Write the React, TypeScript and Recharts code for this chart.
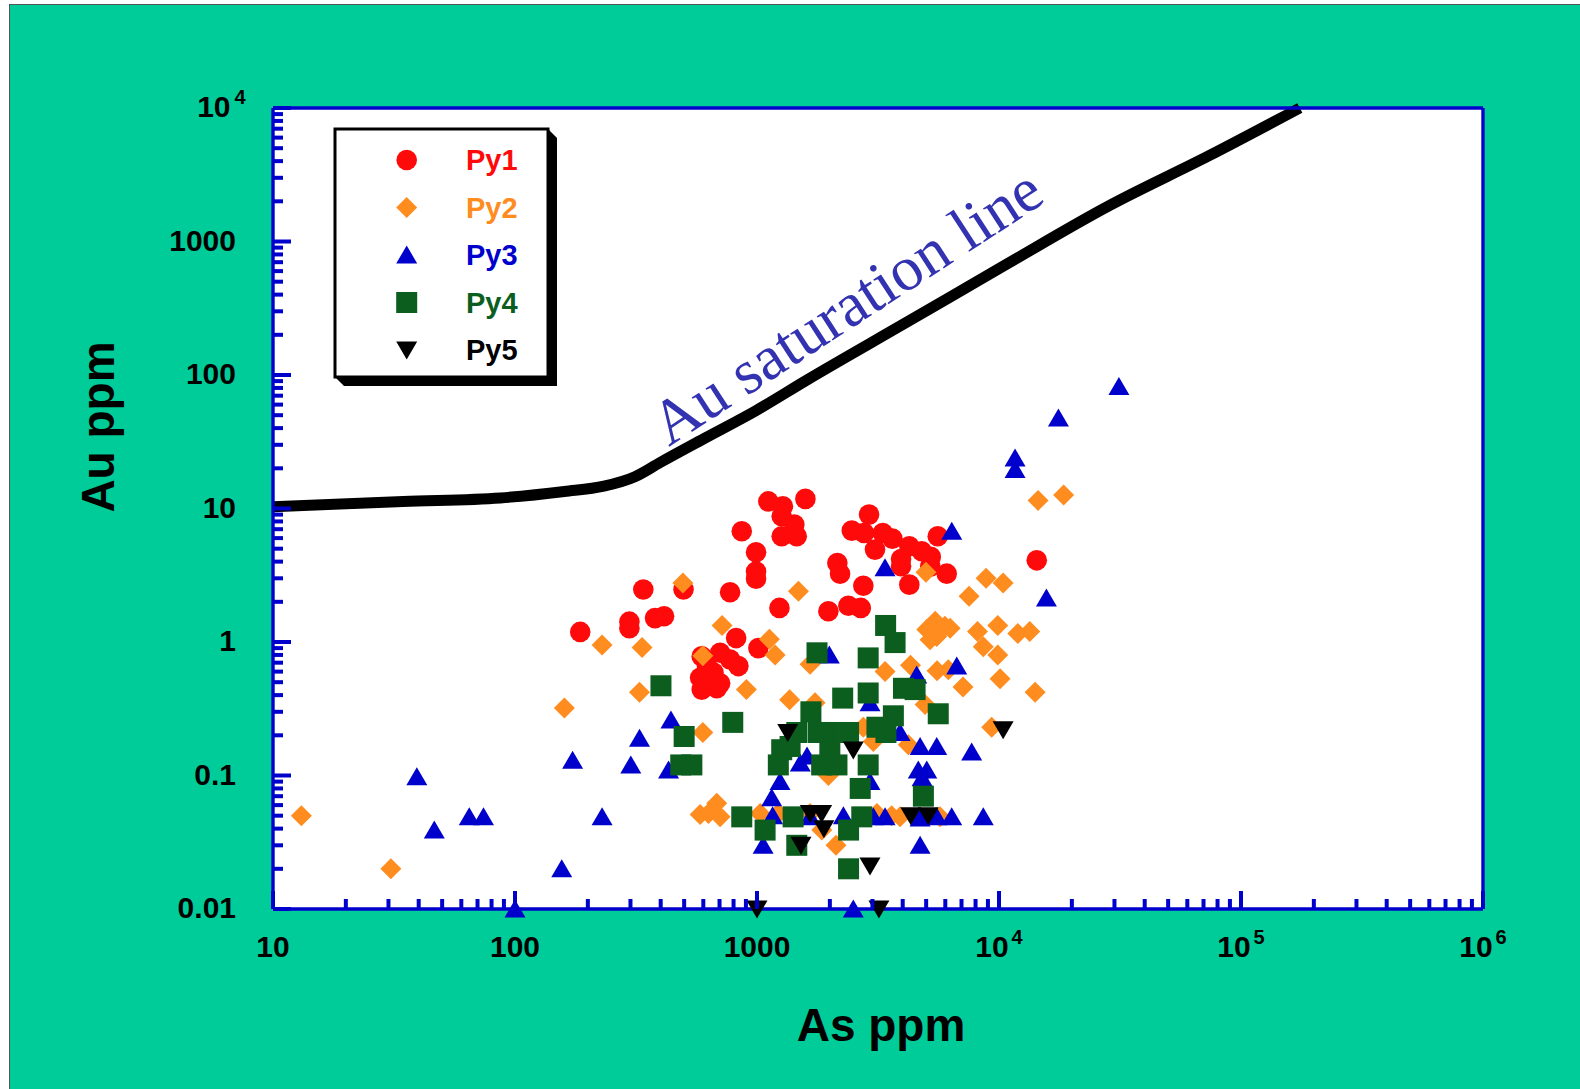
import { ComposedChart, Scatter, Line, XAxis, YAxis } from 'recharts'

// [As ppm, Au ppm]
const py1: [number, number][] = [
  [1114, 11.3], [1279, 10.4], [1585, 11.8], [1265, 8.74], [1426, 7.57], [1265, 6.19],
  [1459, 6.19], [865, 6.75], [991, 4.7], [991, 3.37], [991, 2.98], [774, 2.36],
  [1238, 1.8], [2904, 9.0], [2464, 6.83], [2770, 6.56], [3310, 6.56], [3624, 5.95],
  [3073, 4.92], [4260, 5.21], [4795, 4.78], [5224, 4.34], [3938, 4.19], [3938, 3.69],
  [5583, 6.19], [6081, 3.25], [4260, 2.69], [2148, 3.91], [2204, 3.25], [2750, 2.64],
  [1972, 1.7], [2386, 1.87], [2685, 1.8], [5200, 3.67], [14320, 4.09], [339, 2.47],
  [497, 2.47], [297, 1.42], [297, 1.27], [379, 1.51], [413, 1.56], [186, 1.19],
  [820, 1.07], [1013, 0.9], [591, 0.78], [704, 0.83], [774, 0.74], [838, 0.66],
  [582, 0.54], [661, 0.59], [704, 0.49], [591, 0.44], [682, 0.45], [621, 0.66],
]

const py2: [number, number][] = [
  [13.1, 0.05], [30.7, 0.02], [160, 0.32], [229, 0.95], [335, 0.91], [327, 0.42],
  [494, 2.77], [597, 0.79], [597, 0.21], [582, 0.051], [630, 0.052], [682, 0.062],
  [704, 0.049], [717, 1.33], [1125, 1.05], [1188, 0.8], [904, 0.44], [1364, 0.37],
  [1483, 2.4], [1657, 0.68], [1738, 0.35], [2750, 0.23], [3025, 0.18], [1972, 0.1],
  [3382, 0.6], [4309, 0.67], [5546, 0.61], [6175, 0.62], [7100, 0.46], [10100, 0.53],
  [14100, 0.42], [4950, 0.34], [4220, 0.17], [9330, 0.23], [4990, 3.33], [8840, 3.0],
  [10400, 2.77], [7520, 2.2], [5450, 1.43], [5980, 1.31], [5030, 1.24], [5530, 1.1],
  [5190, 1.04], [8150, 1.2], [9880, 1.33], [11960, 1.16], [13400, 1.2], [8610, 0.92],
  [9880, 0.8], [14500, 11.5], [18500, 12.6], [6280, 1.27], [1030, 0.052], [1225, 0.052],
  [1657, 0.052], [1853, 0.039], [2120, 0.03], [3130, 0.052], [3600, 0.05], [3900, 0.049],
  [5700, 0.049],
]

const py3: [number, number][] = [
  [39.3, 0.098], [46.4, 0.039], [64.7, 0.049], [74.1, 0.049], [156, 0.02], [173, 0.13],
  [229, 0.049], [301, 0.12], [327, 0.19], [441, 0.26], [431, 0.11], [100, 0.01],
  [1990, 0.8], [4570, 0.565], [6690, 0.66], [2930, 0.35], [3900, 0.21], [4720, 0.165],
  [5530, 0.165], [7710, 0.15], [1610, 0.14], [1510, 0.124], [4640, 0.11], [5030, 0.11],
  [4810, 0.096], [1245, 0.09], [1150, 0.068], [2930, 0.09], [1160, 0.05], [1657, 0.049],
  [2275, 0.05], [3025, 0.049], [3382, 0.049], [4720, 0.048], [5530, 0.049], [6377, 0.049],
  [8610, 0.049], [1060, 0.03], [4720, 0.03], [11650, 19.6], [6380, 6.75], [3380, 3.6],
  [15700, 2.14], [31300, 82], [17600, 47.7], [11650, 23.9], [2500, 0.01],
]

const py4: [number, number][] = [
  [3400, 1.33], [3720, 0.99], [1770, 0.83], [2880, 0.76], [4030, 0.45], [4500, 0.44],
  [2880, 0.415], [2260, 0.38], [794, 0.25], [1670, 0.3], [5610, 0.29], [3660, 0.28],
  [3130, 0.23], [3410, 0.21], [1460, 0.21], [1790, 0.21], [1970, 0.21], [2390, 0.21],
  [1265, 0.156], [1370, 0.165], [2000, 0.148], [1225, 0.12], [1850, 0.12], [2140, 0.12],
  [2880, 0.12], [2670, 0.08], [4870, 0.07], [865, 0.049], [1080, 0.039], [1410, 0.049],
  [1460, 0.03], [2710, 0.049], [2390, 0.039], [2390, 0.02], [401, 0.47], [500, 0.196],
  [484, 0.12], [538, 0.12],
]

const py5: [number, number][] = [
  [1340, 0.21], [2500, 0.155], [10400, 0.22], [1660, 0.052], [1850, 0.052], [1890, 0.04],
  [1520, 0.03], [4320, 0.05], [5100, 0.05], [2930, 0.021], [1000, 0.01], [3190, 0.01],
]

// Au saturation line
const satLine: [number, number][] = [
  [10, 10.3], [34.5, 11.3], [87, 12.0], [160, 13.4], [233, 14.7], [313, 17.3],
  [398, 22.1], [612, 33.8], [989, 54], [1596, 91], [4168, 249], [10870, 684],
  [28300, 1840], [73800, 4390], [175000, 10000],
]

const seriesNames = ['Py1', 'Py2', 'Py3', 'Py4', 'Py5']
const seriesColors = ['#ff0a0a', '#ff8c1f', '#0000cc', '#0b5e1e', '#000000']
const seriesShapes = ['circle', 'diamond', 'up', 'square', 'down']
const seriesData = [py1, py2, py3, py4, py5]

const xMajors = [10, 100, 1000, 1e4, 1e5, 1e6]
const yMajors = [0.01, 0.1, 1, 10, 100, 1000, 1e4]
const xTickLabels = ['10', '100', '1000', '10^4', '10^5', '10^6']
const yTickLabels = ['0.01', '0.1', '1', '10', '100', '1000', '10^4']
const minorSteps = [2, 3, 4, 5, 6, 7, 8, 9]

const W = 1580
const H = 1089
// axes take 1px each, so the plot box is 273..1483 x 108..909
const M = { top: 107, right: 96, bottom: 179, left: 272 }
const AXIS = '#0000cc'
const FONT = 'Arial, "Liberation Sans", Helvetica, sans-serif'

const withMinors = (majors: number[]) =>
  majors.flatMap((m, i) =>
    i === majors.length - 1 ? [m] : [m, ...minorSteps.map((s) => Number((m * s).toPrecision(6)))]
  )
const xTicks = withMinors(xMajors)
const yTicks = withMinors(yMajors)

const isMajor = (v: number) => {
  const e = Math.log10(v)
  return Math.abs(e - Math.round(e)) < 1e-6
}
const tickLen = (v: number) => (isMajor(v) ? 18 : 10)
const TICK_W = 4

function TickText({ x, y, text, align }: { x: number; y: number; text: string; align: 'middle' | 'end' }) {
  const [base, exp] = text.split('^')
  const common = { fontFamily: FONT, fontWeight: 700, fill: '#000' }
  if (!exp) {
    return (
      <text x={x} y={y} textAnchor={align} fontSize={30} {...common}>
        {base}
      </text>
    )
  }
  if (align === 'middle') {
    const bw = base.length * 0.556 * 30
    const total = bw + 3 + exp.length * 0.556 * 20
    const x0 = x - total / 2
    return (
      <g>
        <text x={x0} y={y} textAnchor="start" fontSize={30} {...common}>{base}</text>
        <text x={x0 + bw + 3} y={y - 13} textAnchor="start" fontSize={20} {...common}>{exp}</text>
      </g>
    )
  }
  return (
    <g>
      <text x={x - 5.5} y={y} textAnchor="end" fontSize={30} {...common}>{base}</text>
      <text x={x - 1.5} y={y - 13} textAnchor="start" fontSize={20} {...common}>{exp}</text>
    </g>
  )
}

function BottomTick(props: any) {
  const { x, y, payload } = props
  const v = payload.value
  const label = isMajor(v) ? xTickLabels[Math.round(Math.log10(v)) - 1] : null
  return (
    <g>
      <rect x={x - TICK_W / 2} y={y - tickLen(v)} width={TICK_W} height={tickLen(v)} fill={AXIS} />
      {label && <TickText x={x} y={y + 48} text={label} align="middle" />}
    </g>
  )
}

function TopTick(props: any) {
  const { x, y, payload } = props
  return <rect x={x - TICK_W / 2} y={y} width={TICK_W} height={tickLen(payload.value)} fill={AXIS} />
}

function LeftTick(props: any) {
  const { x, y, payload } = props
  const v = payload.value
  const label = isMajor(v) ? yTickLabels[Math.round(Math.log10(v)) + 2] : null
  return (
    <g>
      <rect x={x} y={y - TICK_W / 2} width={tickLen(v)} height={TICK_W} fill={AXIS} />
      {label && <TickText x={x - 37} y={y + 9} text={label} align="end" />}
    </g>
  )
}

function RightTick(props: any) {
  const { x, y, payload } = props
  const len = tickLen(payload.value)
  return <rect x={x - len} y={y - TICK_W / 2} width={len} height={TICK_W} fill={AXIS} />
}

function Marker({ kind, cx, cy, color }: { kind: string; cx: number; cy: number; color: string }) {
  switch (kind) {
    case 'circle':
      return <circle cx={cx} cy={cy} r={10.3} fill={color} />
    case 'diamond':
      return <polygon points={`${cx},${cy - 10.5} ${cx + 10.5},${cy} ${cx},${cy + 10.5} ${cx - 10.5},${cy}`} fill={color} />
    case 'up':
      return <polygon points={`${cx},${cy - 9.5} ${cx + 10.5},${cy + 8.5} ${cx - 10.5},${cy + 8.5}`} fill={color} />
    case 'square':
      return <rect x={cx - 10.5} y={cy - 10.5} width={21} height={21} fill={color} />
    default:
      return <polygon points={`${cx - 10.5},${cy - 8.5} ${cx + 10.5},${cy - 8.5} ${cx},${cy + 9.5}`} fill={color} />
  }
}

function Legend() {
  const L = 335
  const T = 129
  const R = 548
  const B = 377
  const d = 9
  return (
    <g>
      <polygon points={`${R},${T} ${R + d},${T + d} ${R + d},${B + d} ${L + d},${B + d} ${L},${B}`} fill="#000" />
      <rect x={L} y={T} width={R - L} height={B - T} fill="#fff" stroke="#000" strokeWidth={3} />
      {seriesNames.map((name, i) => {
        const cy = 160 + i * 47.5
        return (
          <g key={name}>
            <Marker kind={seriesShapes[i]} cx={406.7} cy={cy} color={seriesColors[i]} />
            <text x={466} y={cy + 10} fontFamily={FONT} fontWeight={700} fontSize={29} fill={seriesColors[i]}>
              {name}
            </text>
          </g>
        )
      })}
    </g>
  )
}

const axisCommon = {
  type: 'number' as const,
  scale: 'log' as const,
  interval: 0 as const,
  tickSize: 0,
  tickMargin: 0,
  tickLine: false,
  axisLine: { stroke: AXIS, strokeWidth: 3.4 },
}

export default function App() {
  const lineData = satLine.map(([x, y]) => ({ x, y }))
  return (
    <div style={{ position: 'absolute', left: 0, top: 0, width: W, height: H, background: '#fff', overflow: 'hidden' }}>
      <div
        style={{
          position: 'absolute',
          left: 9,
          top: 4,
          width: W,
          height: H,
          background: '#00cc99',
          borderLeft: '1.5px solid #555',
          borderTop: '1.5px solid #555',
        }}
      />
      <div style={{ position: 'absolute', left: 273, top: 108, width: 1210, height: 801, background: '#fff' }} />
      <div style={{ position: 'absolute', left: 0, top: 0 }}>
        <ComposedChart width={W} height={H} margin={M}>
          <XAxis {...axisCommon} dataKey="x" domain={[10, 1e6]} ticks={xTicks} height={1} tick={BottomTick} />
          <XAxis {...axisCommon} xAxisId="top" orientation="top" domain={[10, 1e6]} ticks={xTicks} height={1} tick={TopTick} />
          <YAxis {...axisCommon} dataKey="y" domain={[0.01, 1e4]} ticks={yTicks} width={1} tick={LeftTick} />
          <YAxis {...axisCommon} yAxisId="right" orientation="right" domain={[0.01, 1e4]} ticks={yTicks} width={1} tick={RightTick} />
          <Line
            data={lineData}
            dataKey="y"
            type="monotone"
            stroke="#000"
            strokeWidth={11}
            dot={false}
            activeDot={false}
            isAnimationActive={false}
          />
          {seriesData.map((s, i) => (
            <Scatter
              key={seriesNames[i]}
              name={seriesNames[i]}
              data={s.map(([x, y]) => ({ x, y }))}
              fill={seriesColors[i]}
              isAnimationActive={false}
              shape={(p: any) => <Marker kind={seriesShapes[i]} cx={p.cx} cy={p.cy} color={seriesColors[i]} />}
            />
          ))}
        </ComposedChart>
      </div>
      <svg width={W} height={H} style={{ position: 'absolute', left: 0, top: 0, pointerEvents: 'none' }}>
        <Legend />
        <text
          x={858}
          y={324}
          transform="rotate(-33 858 324)"
          textAnchor="middle"
          fontFamily='"Liberation Serif", "Times New Roman", serif'
          fontSize={63}
          fill="#3333b2"
        >
          Au saturation line
        </text>
        <text x={881} y={1041} textAnchor="middle" fontFamily={FONT} fontWeight={700} fontSize={46} fill="#000">
          As ppm
        </text>
        <text
          x={113.5}
          y={427}
          transform="rotate(-90 113.5 427)"
          textAnchor="middle"
          fontFamily={FONT}
          fontWeight={700}
          fontSize={46}
          fill="#000"
        >
          Au ppm
        </text>
      </svg>
    </div>
  )
}
